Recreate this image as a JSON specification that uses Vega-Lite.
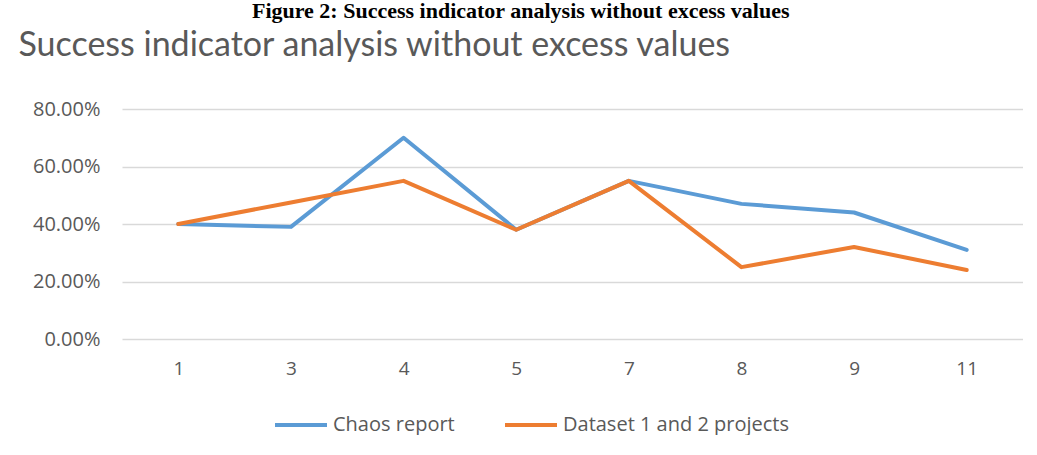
{
  "$schema": "https://vega.github.io/schema/vega-lite/v6.json",
  "background": "white",
  "padding": {"left": 18, "top": 0, "right": 0, "bottom": 0},
  "title": {
    "text": "Figure 2: Success indicator analysis without excess values",
    "font": "Liberation Serif",
    "fontWeight": "bold",
    "fontSize": 22,
    "color": "#000000",
    "anchor": "middle",
    "offset": 6
  },
  "data": {
    "values": [
      {"idx": "1", "series": "Chaos report", "value": 0.40},
      {"idx": "3", "series": "Chaos report", "value": 0.39},
      {"idx": "4", "series": "Chaos report", "value": 0.70},
      {"idx": "5", "series": "Chaos report", "value": 0.38},
      {"idx": "7", "series": "Chaos report", "value": 0.55},
      {"idx": "8", "series": "Chaos report", "value": 0.47},
      {"idx": "9", "series": "Chaos report", "value": 0.44},
      {"idx": "11", "series": "Chaos report", "value": 0.31},
      {"idx": "1", "series": "Dataset 1 and 2 projects", "value": 0.40},
      {"idx": "3", "series": "Dataset 1 and 2 projects", "value": 0.475},
      {"idx": "4", "series": "Dataset 1 and 2 projects", "value": 0.55},
      {"idx": "5", "series": "Dataset 1 and 2 projects", "value": 0.38},
      {"idx": "7", "series": "Dataset 1 and 2 projects", "value": 0.55},
      {"idx": "8", "series": "Dataset 1 and 2 projects", "value": 0.25},
      {"idx": "9", "series": "Dataset 1 and 2 projects", "value": 0.32},
      {"idx": "11", "series": "Dataset 1 and 2 projects", "value": 0.24}
    ]
  },
  "vconcat": [
    {
      "title": {
        "text": "Success indicator analysis without excess values",
        "font": "Lato",
        "fontWeight": "normal",
        "fontSize": 34,
        "color": "#595959",
        "anchor": "start",
        "frame": "bounds",
        "dx": -14,
        "offset": 36
      },
      "width": 901,
      "height": 230,
      "mark": {"type": "line", "strokeWidth": 4, "strokeCap": "round", "strokeJoin": "round"},
      "encoding": {
        "x": {
          "field": "idx",
          "type": "ordinal",
          "sort": ["1", "3", "4", "5", "7", "8", "9", "11"],
          "scale": {"paddingInner": 0, "paddingOuter": 0.5},
          "axis": {"title": null, "labelAngle": 0, "domain": false, "ticks": false, "labelPadding": 20, "labelFontSize": 19}
        },
        "y": {
          "field": "value",
          "type": "quantitative",
          "scale": {"domain": [0, 0.8]},
          "axis": {"title": null, "format": ".2%", "values": [0, 0.2, 0.4, 0.6, 0.8], "domain": false, "ticks": false, "labelPadding": 22, "labelFontSize": 20, "gridColor": "#d9d9d9", "gridWidth": 1.5}
        },
        "color": {
          "field": "series",
          "type": "nominal",
          "scale": {"domain": ["Chaos report", "Dataset 1 and 2 projects"], "range": ["#5B9BD5", "#ED7D31"]},
          "legend": {"title": null, "orient": "none", "legendX": 151, "legendY": 288, "direction": "horizontal", "symbolType": "stroke", "symbolStrokeWidth": 4, "symbolSize": 2704, "labelFontSize": 20, "labelOffset": 4, "labelLimit": 0, "columnPadding": 42}
        }
      }
    }
  ],
  "config": {
    "view": {"stroke": null},
    "axis": {"labelFont": "Open Sans", "labelColor": "#595959"},
    "legend": {"labelFont": "Open Sans", "labelColor": "#595959"}
  }
}
